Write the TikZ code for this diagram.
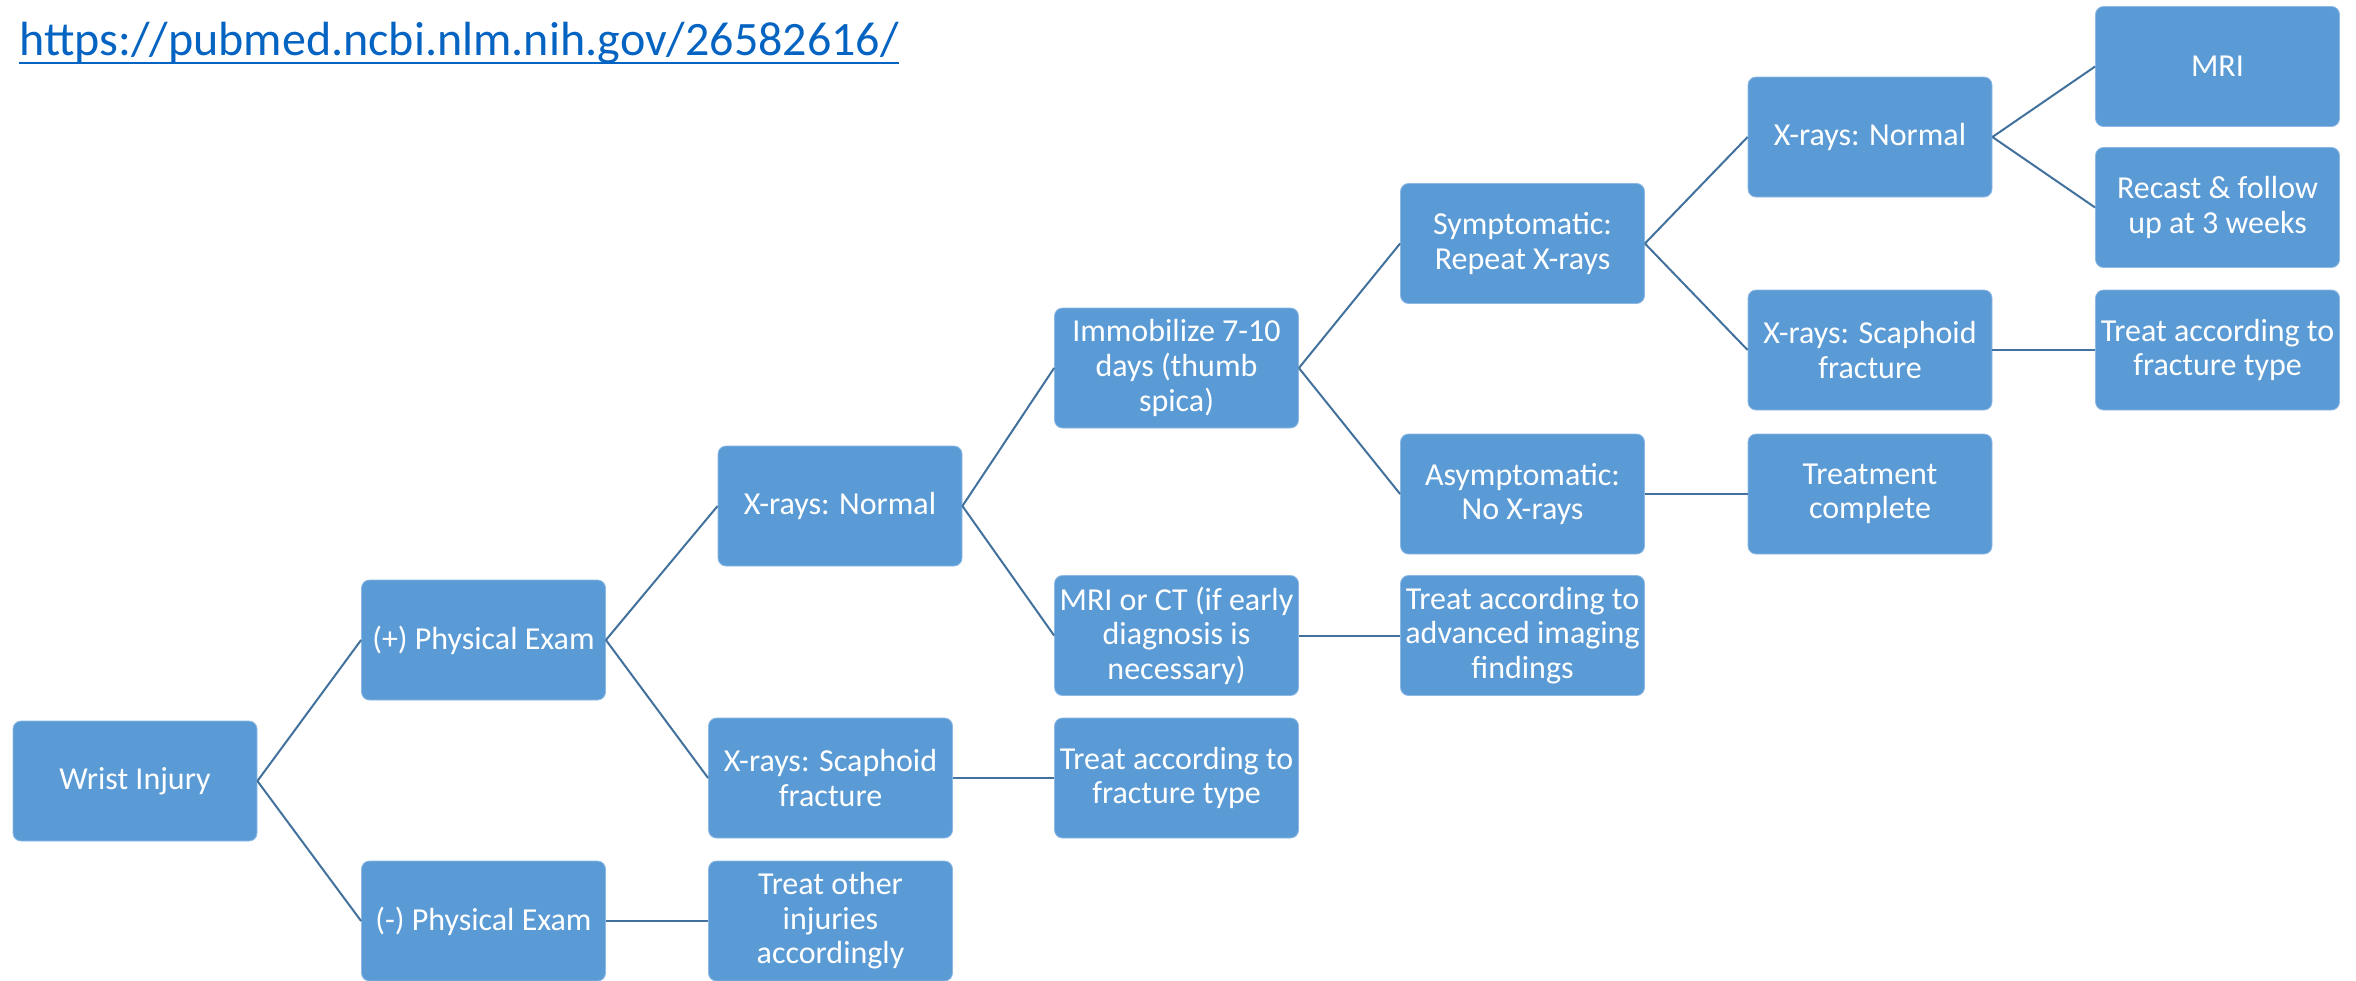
\documentclass[tikz,border=0pt]{standalone}
\usepackage{fontspec}
\setmainfont{Carlito}
\definecolor{boxblue}{HTML}{5B9BD5}
\definecolor{boxedge}{HTML}{8DB9E4}
\definecolor{lineblue}{HTML}{41719C}
\definecolor{urlblue}{HTML}{0563C1}
\begin{document}
\begin{tikzpicture}[x=0.5pt,y=-0.5pt,
  box/.style={fill=boxblue, draw=boxedge, line width=0.4pt, rounded corners=4pt, minimum width=122pt, minimum height=60pt,
    inner sep=0pt, text=white, align=center, font=\fontsize{16}{17.3}\selectfont},
  conn/.style={draw=lineblue, line width=1pt}]
\useasboundingbox (0,0) rectangle (2356,980);
% URL
\node[anchor=base west, text=urlblue, font=\fontsize{24}{28}\selectfont, inner sep=0pt] (url) at (19,55) {https://pubmed.ncbi.nlm.nih.gov/26582616/};
\coordinate (ul) at (0,63);
\draw[urlblue, line width=1.3pt] (url.west |- ul) -- (url.east |- ul);
% boxes
\node[box] (wrist) at (135,781) {Wrist Injury};
\node[box] (pospe) at (483.5,640) {(+) Physical Exam};
\node[box] (negpe) at (483.5,921) {(-) Physical Exam};
\node[box] (xn1) at (840,506) {X-rays: Normal};
\node[box] (xs1) at (830.5,778) {X-rays: Scaphoid\\fracture};
\node[box] (other) at (830.5,921) {Treat other\\injuries\\accordingly};
\node[box] (immob) at (1176.5,368) {Immobilize 7-10\\days (thumb\\spica)};
\node[box] (mrict) at (1176.5,635.5) {MRI or CT (if early\\diagnosis is\\necessary)};
\node[box] (treat3) at (1176.5,778) {Treat according to\\fracture type};
\node[box] (sympt) at (1522.5,243.5) {Symptomatic:\\Repeat X-rays};
\node[box] (asympt) at (1522.5,494) {Asymptomatic:\\No X-rays};
\node[box] (adv) at (1522.5,635.5) {Treat according to\\advanced imaging\\findings};
\node[box] (xn5) at (1870,137) {X-rays: Normal};
\node[box] (xs5) at (1870,350) {X-rays: Scaphoid\\fracture};
\node[box] (complete) at (1870,494) {Treatment\\complete};
\node[box] (mri) at (2217.5,66.5) {MRI};
\node[box] (recast) at (2217.5,207.5) {Recast \& follow\\up at 3 weeks};
\node[box] (treat6) at (2217.5,350) {Treat according to\\fracture type};
% connectors
\draw[conn] (wrist.east) -- (pospe.west);
\draw[conn] (wrist.east) -- (negpe.west);
\draw[conn] (pospe.east) -- (xn1.west);
\draw[conn] (pospe.east) -- (xs1.west);
\draw[conn] (negpe.east) -- (other.west);
\draw[conn] (xn1.east) -- (immob.west);
\draw[conn] (xn1.east) -- (mrict.west);
\draw[conn] (xs1.east) -- (treat3.west);
\draw[conn] (immob.east) -- (sympt.west);
\draw[conn] (immob.east) -- (asympt.west);
\draw[conn] (mrict.east) -- (adv.west);
\draw[conn] (sympt.east) -- (xn5.west);
\draw[conn] (sympt.east) -- (xs5.west);
\draw[conn] (asympt.east) -- (complete.west);
\draw[conn] (xn5.east) -- (mri.west);
\draw[conn] (xn5.east) -- (recast.west);
\draw[conn] (xs5.east) -- (treat6.west);
\end{tikzpicture}
\end{document}
